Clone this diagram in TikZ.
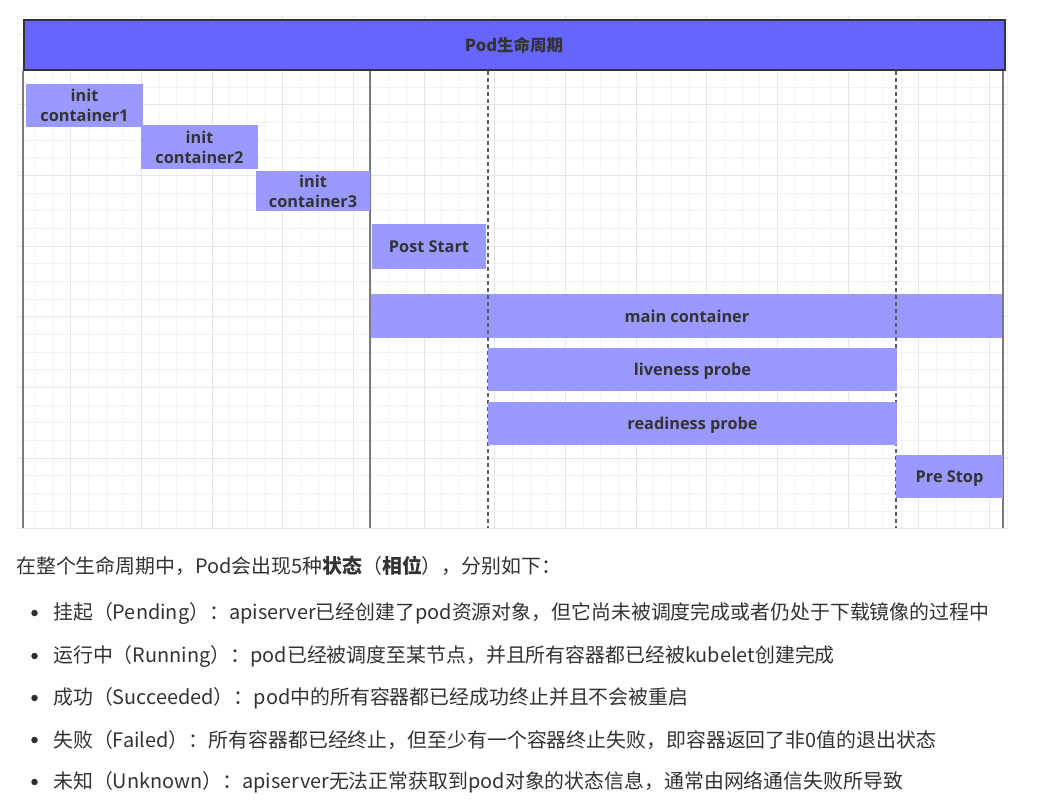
\documentclass[tikz,border=0pt]{standalone}
\usepackage{fontspec}
\setmainfont{Noto Sans CJK SC}
\newfontfamily\lblfont{Open Sans}
\definecolor{hdrfill}{HTML}{6666FF}
\definecolor{boxfill}{HTML}{9999FF}
\definecolor{txtc}{HTML}{333333}
\definecolor{gminor}{HTML}{F3F3F3}
\definecolor{gmajor}{HTML}{E6E6E6}
\definecolor{linec}{HTML}{7A7A7A}
\tikzset{
  gridminor/.style={draw=gminor, line width=0.8pt},
  gridmajor/.style={draw=gmajor, line width=1pt},
  phasebox/.style={fill=boxfill, draw=none, inner sep=0pt, outer sep=0pt, anchor=north west,
    text=txtc, font=\lblfont\bfseries\fontsize{16.3}{20}\selectfont, align=center, text depth=0pt},
  solidline/.style={draw=linec, line width=1.6pt},
  dashline/.style={draw=linec!75!black, line width=1.3pt, dash pattern=on 4pt off 3pt},
  bodytext/.style={anchor=west, inner sep=0pt, text=txtc, font=\fontsize{19.9}{22}\selectfont},
  bulletdot/.style={circle, fill=txtc!90!black, inner sep=0pt, minimum size=6.5pt}
}
\begin{document}
\begin{tikzpicture}[x=1pt,y=-1pt]
\useasboundingbox[fill=white] (0,0) rectangle (1056,805);
% grid
\foreach \i in {1,...,57} {
  \draw[gridminor] ({\i*17.667},16.5) -- ({\i*17.667},530);
}
\foreach \j in {0,...,29} {
  \draw[gridminor] (17.667,{16.5+\j*17.667}) -- (1008,{16.5+\j*17.667});
}
\foreach \i in {4,8,...,56} {
  \draw[gridmajor] ({\i*17.667},16.5) -- ({\i*17.667},530);
}
\foreach \j in {1,5,...,29} {
  \draw[gridmajor] (17.667,{16.5+\j*17.667}) -- (1008,{16.5+\j*17.667});
}
% header
\node[draw=txtc, line width=2pt, fill=hdrfill, inner sep=0pt, outer sep=0pt,
  minimum width=981pt, minimum height=50pt, anchor=north west,
  text=txtc, font=\bfseries\fontsize{16.5}{20}\selectfont] (hdr) at (23.5,20.5) {Pod生命周期};
% main container underneath lines
\node[phasebox, minimum width=632pt, minimum height=44pt] (main) at (371,294) {main container};
% lines
\coordinate (l1t) at (23,71); \coordinate (l1b) at (23,528);
\coordinate (l2t) at (370,71); \coordinate (l2b) at (370,528);
\coordinate (l3t) at (488,71); \coordinate (l3b) at (488,528);
\coordinate (l4t) at (896,71); \coordinate (l4b) at (896,528);
\coordinate (l5t) at (1003,71); \coordinate (l5b) at (1003,528);
\draw[solidline] (l1t) -- (l1b);
\draw[solidline] (l2t) -- (l2b);
\draw[dashline] (l3t) -- (l3b);
\draw[dashline] (l4t) -- (l4b);
\draw[solidline] (l5t) -- (l5b);
% boxes
\node[phasebox, minimum width=117pt, minimum height=43pt] (ic1) at (26,84) {init\\container1};
\node[phasebox, minimum width=117pt, minimum height=44pt] (ic2) at (141,125) {init\\container2};
\node[phasebox, minimum width=114pt, minimum height=40pt] (ic3) at (256,171) {init\\container3};
\node[phasebox, minimum width=114pt, minimum height=45pt] (post) at (372,224) {Post Start};
\node[phasebox, minimum width=409pt, minimum height=43pt] (live) at (488,348) {liveness probe};
\node[phasebox, minimum width=409pt, minimum height=43pt] (ready) at (488,402) {readiness probe};
\node[phasebox, minimum width=107pt, minimum height=43pt] (pre) at (896,455) {Pre Stop};
% text
\node[bodytext] (intro) at (16,566) {在整个生命周期中，Pod会出现5种\textbf{状态}（\textbf{相位}），分别如下：};
\node[bulletdot] (b1) at (34.5,613) {};
\node[bulletdot] (b2) at (34.5,656) {};
\node[bulletdot] (b3) at (34.5,698) {};
\node[bulletdot] (b4) at (34.5,740) {};
\node[bulletdot] (b5) at (34.5,782) {};
\node[bodytext] (t1) at (53,613) {挂起（Pending）：apiserver已经创建了pod资源对象，但它尚未被调度完成或者仍处于下载镜像的过程中};
\node[bodytext] (t2) at (53,656) {运行中（Running）：pod已经被调度至某节点，并且所有容器都已经被kubelet创建完成};
\node[bodytext] (t3) at (53,698) {成功（Succeeded）：pod中的所有容器都已经成功终止并且不会被重启};
\node[bodytext] (t4) at (53,740) {失败（Failed）：所有容器都已经终止，但至少有一个容器终止失败，即容器返回了非0值的退出状态};
\node[bodytext] (t5) at (53,782) {未知（Unknown）：apiserver无法正常获取到pod对象的状态信息，通常由网络通信失败所导致};
\end{tikzpicture}
\end{document}
